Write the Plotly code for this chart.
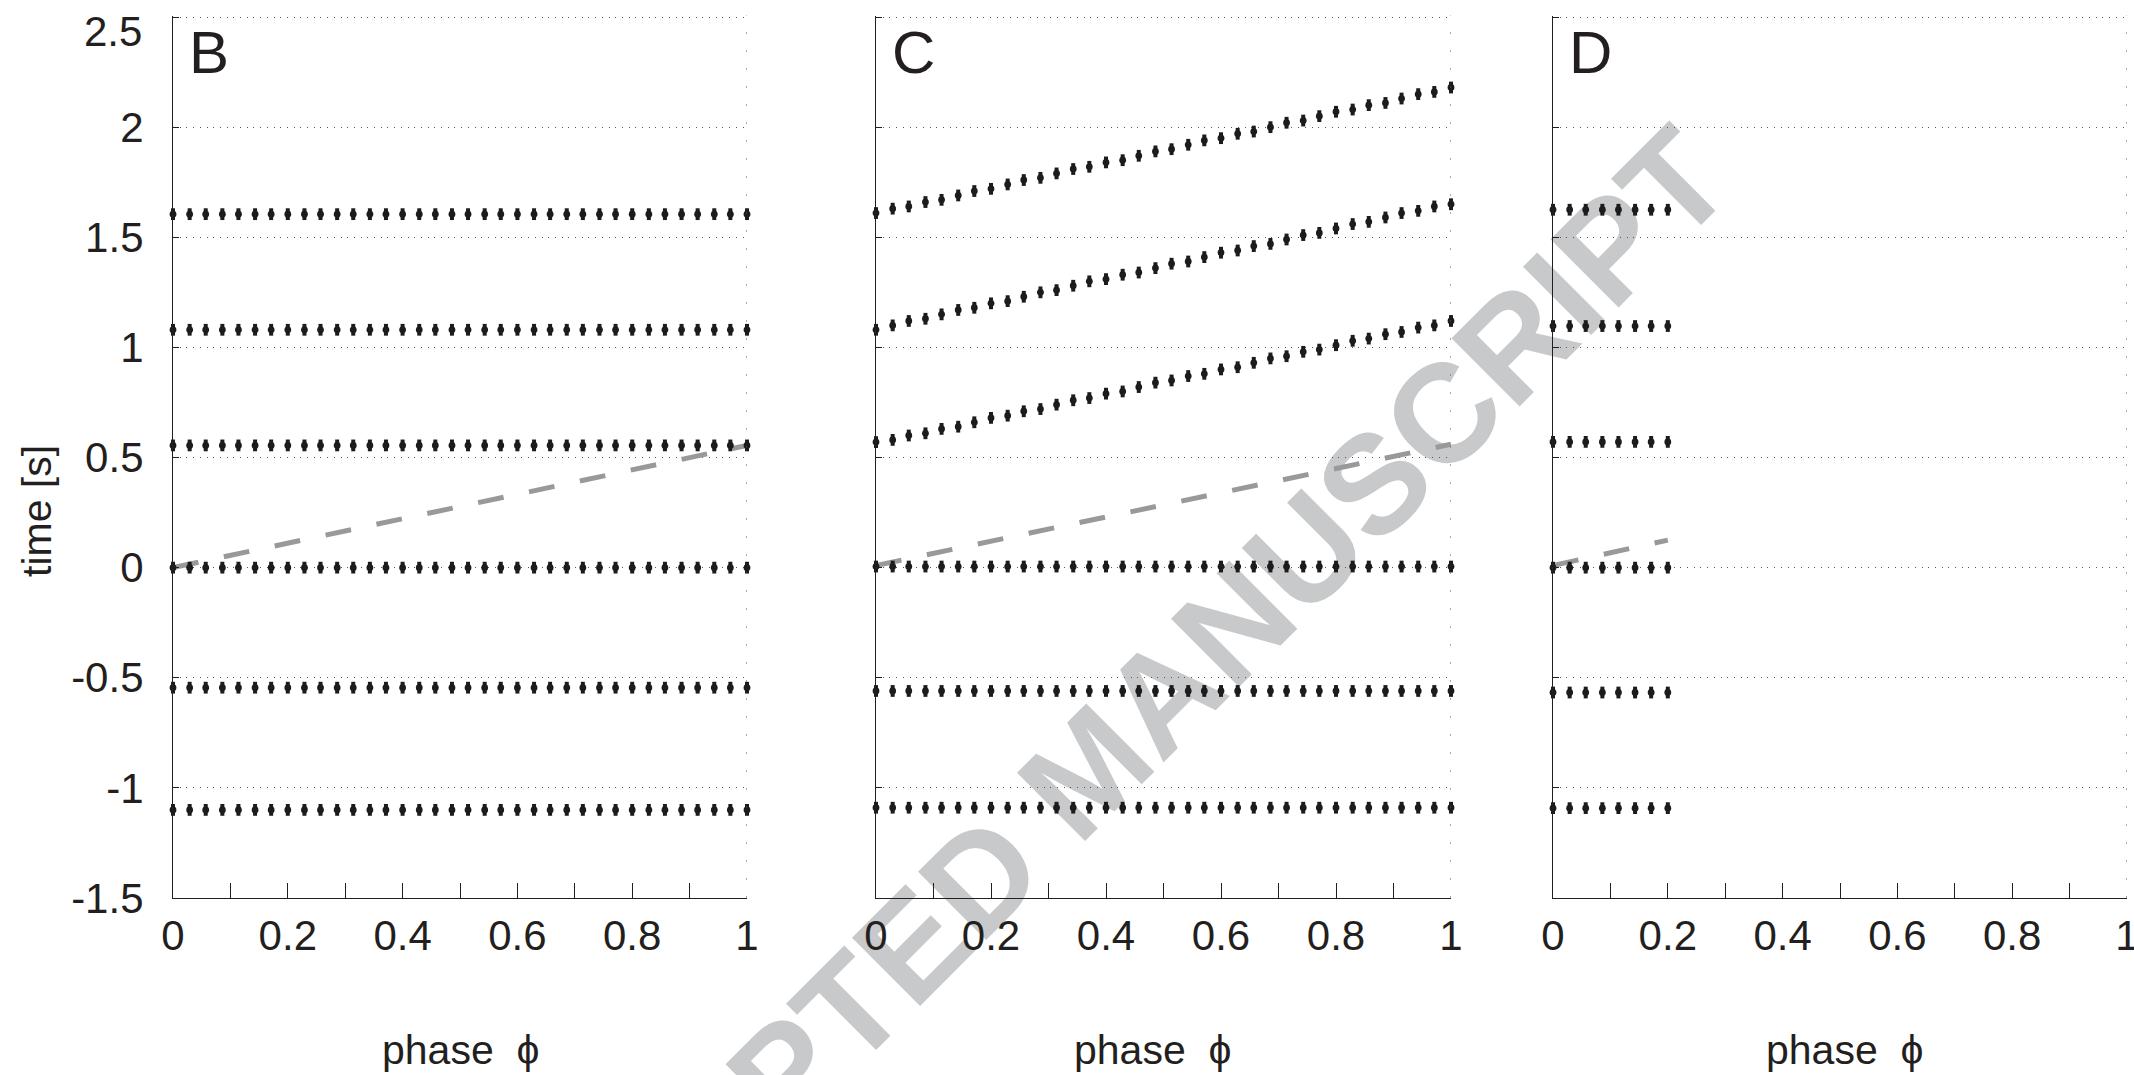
import plotly.graph_objects as go

# ---------------- data ----------------
phase = [0.0, 0.029, 0.057, 0.086, 0.114, 0.143, 0.171, 0.2, 0.229, 0.257,
         0.286, 0.314, 0.343, 0.371, 0.4, 0.429, 0.457, 0.486, 0.514, 0.543,
         0.571, 0.6, 0.629, 0.657, 0.686, 0.714, 0.743, 0.771, 0.8, 0.829,
         0.857, 0.886, 0.914, 0.943, 0.971, 1.0]
phase_D = [0.0, 0.029, 0.057, 0.086, 0.114, 0.143, 0.171, 0.2]

B_levels = [1.605, 1.08, 0.555, 0.0, -0.545, -1.10]
C_flat_levels = [0.005, -0.56, -1.09]
C_row1 = [1.61, 1.63, 1.64, 1.66, 1.67, 1.69, 1.71, 1.72, 1.74, 1.76, 1.77, 1.79,
          1.81, 1.82, 1.84, 1.85, 1.87, 1.89, 1.90, 1.92, 1.94, 1.95, 1.97, 1.98,
          2.00, 2.02, 2.03, 2.05, 2.07, 2.08, 2.10, 2.11, 2.13, 2.15, 2.16, 2.18]
C_row2 = [1.08, 1.10, 1.12, 1.13, 1.15, 1.17, 1.18, 1.20, 1.21, 1.23, 1.25, 1.26,
          1.28, 1.30, 1.31, 1.33, 1.34, 1.36, 1.38, 1.39, 1.41, 1.43, 1.44, 1.46,
          1.47, 1.49, 1.51, 1.52, 1.54, 1.56, 1.57, 1.59, 1.61, 1.62, 1.64, 1.65]
C_row3 = [0.57, 0.58, 0.60, 0.61, 0.63, 0.64, 0.66, 0.68, 0.69, 0.71, 0.72, 0.74,
          0.76, 0.77, 0.79, 0.80, 0.82, 0.84, 0.85, 0.87, 0.88, 0.90, 0.91, 0.93,
          0.95, 0.96, 0.98, 0.99, 1.01, 1.03, 1.04, 1.06, 1.07, 1.09, 1.10, 1.12]
D_levels = [1.625, 1.097, 0.571, 0.0, -0.567, -1.092]

B_dash_x, B_dash_y = [0.0, 1.0], [0.0, 0.555]
C_dash_x, C_dash_y = [0.0, 1.0], [0.01, 0.56]
D_dash_x, D_dash_y = [0.0, 0.2], [0.01, 0.125]

x_tickvals = [0, 0.2, 0.4, 0.6, 0.8, 1]
x_ticktext = ["0", "0.2", "0.4", "0.6", "0.8", "1"]
x_minor = [0.1, 0.3, 0.5, 0.7, 0.9]
y_tickvals = [-1.5, -1, -0.5, 0, 0.5, 1, 1.5, 2, 2.5]
y_ticktext = ["-1.5", "-1", "-0.5", "0", "0.5", "1", "1.5", "2", "2.5"]
x_range = [0, 1]
y_range = [-1.5, 2.507]
panel_letters = ["B", "C", "D"]
x_title = "phase\u00a0\u00a0\u03d5"
y_title = "time [s]"
watermark = "ACCEPTED MANUSCRIPT"

# ---------------- styling ----------------
W, H = 2134, 1075
FONT = "Liberation Sans, Arial, Helvetica, sans-serif"
INK = "#231f20"
DOT = "#1e1b1c"
DASH = "#999999"
GRID = "#555555"
TICK_SIZE = 42

x_domains = [[173 / W, 747 / W], [876 / W, 1451 / W], [1553 / W, 2127 / W]]
y_domain = [1 - 898 / H, 1 - 15.5 / H]

# layered marker shapes that together give a slightly tall oval dot
DOT_LAYERS = [
    dict(symbol="circle", size=6.8, color=DOT, line=dict(width=0)),
    dict(symbol="line-ns", size=8.4, color=DOT, line=dict(width=4, color=DOT)),
    dict(symbol="diamond-tall", size=7.6, color=DOT, line=dict(width=0)),
]


def rows_to_xy(xs, rows):
    X, Y = [], []
    for r in rows:
        X += xs
        Y += r
    return X, Y


panels = [
    (phase, [[lv] * len(phase) for lv in B_levels], B_dash_x, B_dash_y),
    (phase, [C_row1, C_row2, C_row3] + [[lv] * len(phase) for lv in C_flat_levels], C_dash_x, C_dash_y),
    (phase_D, [[lv] * len(phase_D) for lv in D_levels], D_dash_x, D_dash_y),
]

# the top tick label sits just below its tick in the reference -> drawn separately
y_ticktext_axis = ["" if v == y_tickvals[-1] else t for v, t in zip(y_tickvals, y_ticktext)]

fig = go.Figure()
for i, (xs, rows, dx, dy) in enumerate(panels):
    xa = "x" if i == 0 else f"x{i+1}"
    ya = "y" if i == 0 else f"y{i+1}"
    fig.add_trace(go.Scatter(x=dx, y=dy, mode="lines", xaxis=xa, yaxis=ya,
                             line=dict(color=DASH, width=5, dash="26px,26px"),
                             cliponaxis=False, hoverinfo="skip", showlegend=False))
    X, Y = rows_to_xy(xs, rows)
    for k, mk in enumerate(DOT_LAYERS):
        fig.add_trace(go.Scatter(x=X, y=Y, mode="markers", xaxis=xa, yaxis=ya,
                                 marker=mk, cliponaxis=False, showlegend=False,
                                 hoverinfo=None if k == 0 else "skip"))

    xkey = "xaxis" if i == 0 else f"xaxis{i+1}"
    ykey = "yaxis" if i == 0 else f"yaxis{i+1}"
    fig.update_layout({
        xkey: dict(domain=x_domains[i], anchor=ya, range=x_range, automargin=False,
                   tickmode="array", tickvals=x_tickvals, ticktext=x_ticktext,
                   ticks="inside", ticklen=15, tickwidth=1, tickcolor=INK,
                   minor=dict(tickvals=x_minor, ticks="inside", ticklen=15,
                              tickwidth=1, tickcolor=INK, showgrid=False),
                   showline=True, linecolor=INK, linewidth=1.2,
                   showgrid=False, zeroline=False, ticklabelstandoff=0,
                   ticklabeloverflow="allow",
                   tickfont=dict(family=FONT, size=TICK_SIZE, color=INK)),
        ykey: dict(domain=y_domain, anchor=xa, range=y_range, automargin=False,
                   tickmode="array", tickvals=y_tickvals, ticktext=y_ticktext_axis,
                   showticklabels=(i == 0),
                   ticks="inside", ticklen=6, tickwidth=1, tickcolor=INK,
                   showline=True, linecolor=INK, linewidth=1.2,
                   showgrid=True, gridcolor=GRID, gridwidth=1, griddash="1px,5.7px",
                   zeroline=False, ticklabelstandoff=20,
                   tickfont=dict(family=FONT, size=TICK_SIZE, color=INK)),
    })
    # dotted right edge at the end of the x range
    fig.add_shape(type="line", xref=xa, x0=x_range[1], x1=x_range[1],
                  yref=f"{ya} domain", y0=0, y1=1,
                  line=dict(color=GRID, width=1, dash="2px,16px"), layer="above")

# top tick label of panel B, nudged below its tick as in the reference
fig.add_annotation(text=y_ticktext[-1], xref="paper", yref="y", x=144 / W, y=y_tickvals[-1],
                   xanchor="right", yanchor="middle", yshift=-14, showarrow=False,
                   font=dict(family=FONT, size=TICK_SIZE, color=INK))

# axis titles and panel letters
title_centers = [460, 1152, 1844]
letter_lefts = [187, 890, 1567]
for i in range(3):
    fig.add_annotation(text=x_title, xref="paper", yref="paper",
                       x=title_centers[i] / W, y=1 - 1050 / H,
                       xanchor="center", yanchor="middle", showarrow=False,
                       font=dict(family=FONT, size=41, color=INK))
    fig.add_annotation(text=panel_letters[i], xref="paper", yref="paper",
                       x=letter_lefts[i] / W, y=1 - 52 / H,
                       xanchor="left", yanchor="middle", showarrow=False,
                       font=dict(family=FONT, size=60, color=INK))

fig.add_annotation(text=y_title, xref="paper", yref="paper",
                   x=37 / W, y=1 - 511 / H, textangle=-90,
                   xanchor="center", yanchor="middle", showarrow=False,
                   font=dict(family=FONT, size=41, color=INK))

# watermark, drawn beneath the data
fig.add_shape(type="rect", xref="paper", yref="paper",
              x0=1079 / W, x1=1079 / W, y0=1 - 760 / H, y1=1 - 760 / H,
              line=dict(width=0), layer="below",
              label=dict(text="<b>" + watermark + "</b>", textangle=-45,
                         textposition="middle center",
                         font=dict(family=FONT, size=140, color="#c8c9cb")))

fig.update_layout(template="none", width=W, height=H,
                  margin=dict(l=0, r=0, t=0, b=0, pad=0, autoexpand=False),
                  paper_bgcolor="white", plot_bgcolor="rgba(0,0,0,0)",
                  showlegend=False)

fig.write_html("out.html", config={"displayModeBar": False},
               post_script="document.body.style.margin='0px';"
                           "document.body.style.overflow='hidden';")
